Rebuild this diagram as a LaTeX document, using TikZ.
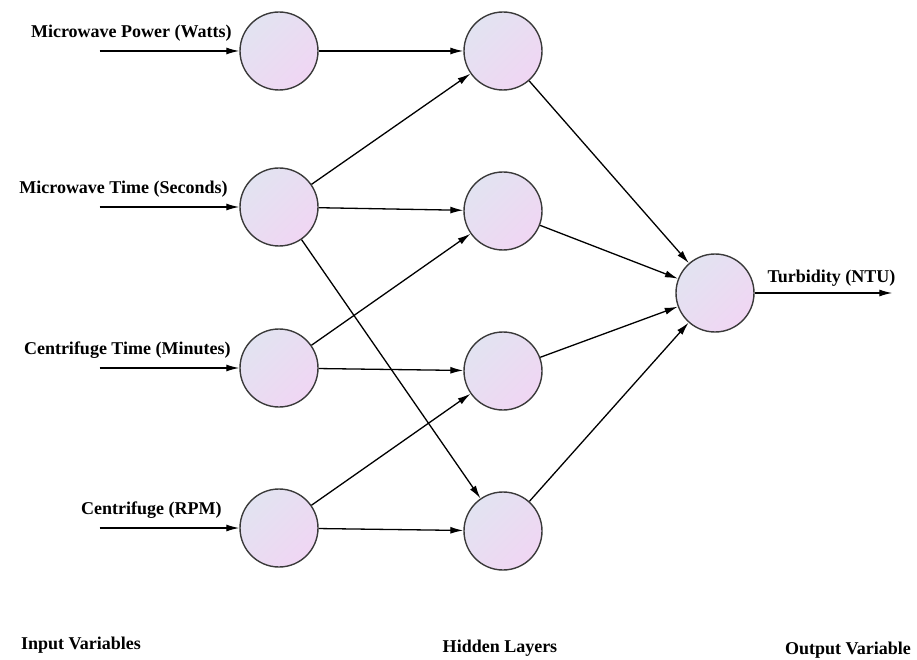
\documentclass[tikz,border=0pt]{standalone}
\usepackage{fontspec}
\setmainfont{Liberation Serif}
\usepackage{xcolor}
\usepackage{tikz}
\usetikzlibrary{arrows, arrows.meta, positioning}
\tikzstyle{neuron} = [circle, draw = rimGray, line width = 1.4pt, top color = nodeBlue, bottom color = nodePink, shading angle = 45, minimum size = 78pt, inner sep = 0pt]
\tikzstyle{line} = [line width = 1.3pt, ->, >= {Latex[length = 13pt, width = 7pt]}]
\tikzstyle{noblock} = [rectangle, draw = none, inner sep = 0pt]
\tikzstyle{varname} = [font = \fontsize{18}{22}\selectfont\bfseries, inner sep = 2pt]
\definecolor{nodeBlue}{HTML}{E2E3F1}
\definecolor{nodePink}{HTML}{F0D6F3}
\definecolor{rimGray}{HTML}{3A3A3A}

\begin{document}
\begin{tikzpicture}[node distance = 160pt]
        \useasboundingbox (-279pt, 51pt) rectangle (638pt, -609pt);
        % input layer
        \node(I1) [neuron] {};
        \node(I2) [neuron, below of = I1, node distance = 156pt] {};
        \node(I3) [neuron, below of = I2, node distance = 161pt] {};
        \node(I4) [neuron, below of = I3, node distance = 160pt] {};
        % hidden layer
        \node(H1) [neuron, right of = I1, node distance = 224pt] {};
        \node(H2) [neuron, below of = H1] {};
        \node(H3) [neuron, below of = H2] {};
        \node(H4) [neuron, below of = H3] {};
        % output
        \node(belowofH2) [noblock, below of = H2, node distance = 82pt]{};
        \node(O) [neuron, right of = belowofH2, node distance = 212pt] {};
        \node(leftofI1) [noblock, left of = I1, node distance = 180pt]{};
        \node(leftofI2) [noblock, left of = I2, node distance = 180pt]{};
        \node(leftofI3) [noblock, left of = I3, node distance = 180pt]{};
        \node(leftofI4) [noblock, left of = I4, node distance = 180pt]{};
        \node(rightofO) [noblock, right of = O, node distance = 178pt]{};
        \draw[line] (leftofI1) --node(labI1)[varname, pos = 1, above left, xshift = -5pt, yshift = 7pt]{Microwave Power (Watts)} (I1);
        \draw[line] (leftofI2) --node(labI2)[varname, pos = 1, above left, xshift = -9pt, yshift = 7pt]{Microwave Time (Seconds)} (I2);
        \draw[line] (leftofI3) --node(labI3)[varname, pos = 1, above left, xshift = -6pt, yshift = 7pt]{Centrifuge Time (Minutes)} (I3);
        \draw[line] (leftofI4) --node(labI4)[varname, pos = 1, above left, xshift = -15pt, yshift = 7pt]{Centrifuge (RPM)} (I4);
        \draw[line] (I1) -- (H1);
        \draw[line] (I2) -- (H1);
        \draw[line] (I2) -- (H2);
        \draw[line] (I2) -- (H4);
        \draw[line] (I3) -- (H2);
        \draw[line] (I3) -- (H3);
        \draw[line] (I4) -- (H3);
        \draw[line] (I4) -- (H4);
        \draw[line] (H1) -- (O);
        \draw[line] (H2) -- (O);
        \draw[line] (H3) -- (O);
        \draw[line] (H4) -- (O);
        \draw[line] (O) --node(labO)[varname, above, xshift = 8pt, yshift = 4pt]{Turbidity (NTU)} (rightofO);
        % layer titles
        \node(inputs) [varname, below of = I4, node distance = 117pt, xshift = -198pt] {Input Variables};
        \node(hidden) [varname, below of = H4, node distance = 117pt, xshift = -3pt] {Hidden Layers};
        \node(outputs) [varname, below of = O, node distance = 357pt, xshift = 133pt] {Output Variable};
\end{tikzpicture}
\end{document}
